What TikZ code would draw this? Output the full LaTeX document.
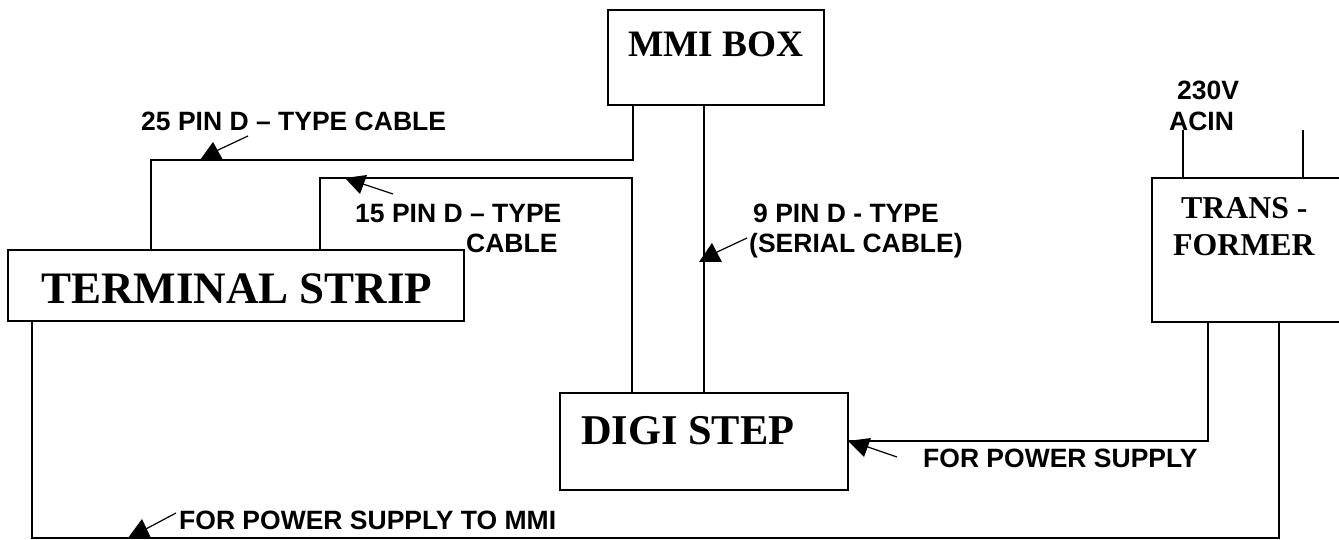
\documentclass[tikz,border=0pt]{standalone}
\usepackage{fontspec}
\setmainfont{Liberation Serif}
\newfontfamily\lblfont{Liberation Sans}
\begin{document}
\begin{tikzpicture}[x=1pt,y=-1pt,
  boxstyle/.style={draw=black,line width=1.8pt,inner sep=0pt,outer sep=0pt,anchor=north west},
  wire/.style={draw=black,line width=1.4pt,line join=miter},
  pointer/.style={draw=black,line width=1.2pt},
  head/.style={fill=black,draw=none},
  lbl/.style={inner sep=0pt,anchor=base west,font=\lblfont\bfseries\fontsize{26.5}{30}\selectfont},
  ttl/.style={inner sep=0pt,anchor=base west,font=\bfseries}]
\useasboundingbox (0,0) rectangle (1339,540);
\node[boxstyle,minimum width=216pt,minimum height=95pt] (mmi) at (608,10) {};
\node[boxstyle,minimum width=456pt,minimum height=71pt] (term) at (8,250) {};
\node[boxstyle,minimum width=288pt,minimum height=97pt] (digi) at (560,393) {};
\node[boxstyle,minimum width=192pt,minimum height=144pt] (trans) at (1152,178) {};
\node[ttl,font=\bfseries\fontsize{37.3}{40}\selectfont] (mmit) at (628,57) {MMI BOX};
\node[ttl,font=\bfseries\fontsize{45}{52}\selectfont] (termt) at (41,303) {TERMINAL STRIP};
\node[ttl,font=\bfseries\fontsize{42.4}{48}\selectfont] (digit) at (581,444) {DIGI STEP};
\node[ttl,font=\bfseries\fontsize{31.8}{36}\selectfont] (transa) at (1181,219) {TRANS -};
\node[ttl,font=\bfseries\fontsize{31.8}{36}\selectfont] (transb) at (1173,256) {FORMER};
\node[lbl] (l25) at (141,131) {25 PIN D – TYPE CABLE};
\node[lbl] (l15a) at (355,223) {15 PIN D – TYPE};
\node[lbl] (l15b) at (466,253) {CABLE};
\node[lbl] (l9a) at (753,223) {9 PIN D - TYPE};
\node[lbl] (l9b) at (749,253) {(SERIAL CABLE)};
\node[lbl] (lv1) at (1177,100) {230V};
\node[lbl] (lv2) at (1169,131) {ACIN};
\node[lbl] (lps) at (923,467) {FOR POWER SUPPLY};
\node[lbl] (lmm) at (179,529) {FOR POWER SUPPLY TO MMI};
\coordinate (c25) at (151,160);
\coordinate (c15) at (320,178);
\coordinate (ac1) at (1183,130);
\coordinate (ac2) at (1303,130);
\coordinate (ps1) at (1208,441);
\coordinate (ps2) at (1279,538);
\coordinate (ps3) at (32,538);
\path[wire] (term.north west -| c25) -- (c25) -- (c25 -| 633,0) -- (mmi.south west -| 633,0);
\path[wire] (term.north west -| c15) -- (c15) -- (c15 -| 632,0) -- (digi.north west -| 632,0);
\path[wire] (mmi.south west -| 704,0) -- (digi.north west -| 704,0);
\path[wire] (trans.north west -| ac1) -- (ac1);
\path[wire] (trans.north west -| ac2) -- (ac2);
\path[wire] (trans.south west -| ps1) -- (ps1) -- (ps1 -| digi.east);
\path[wire] (trans.south west -| ps2) -- (ps2) -- (ps3) -- (term.south west -| ps3);
\coordinate (p25) at (248,136); \coordinate (q25) at (216,151);
\coordinate (p15) at (393,194); \coordinate (q15) at (360,183);
\coordinate (p9) at (747,238); \coordinate (q9) at (715,253);
\coordinate (pps) at (897,457); \coordinate (qps) at (865,446);
\coordinate (pmm) at (176,513); \coordinate (qmm) at (144,530);
\path[pointer] (p25) -- (q25);
\path[pointer] (p15) -- (q15);
\path[pointer] (p9) -- (q9);
\path[pointer] (pps) -- (qps);
\path[pointer] (pmm) -- (qmm);
\fill[head] (200,160) -- (213,142) -- (223,160) -- cycle;
\fill[head] (345,178) -- (367,175) -- (360,194) -- cycle;
\fill[head] (699,262) -- (712,243) -- (722,262) -- cycle;
\fill[head] (848,441) -- (871,438) -- (864,457) -- cycle;
\fill[head] (128,538) -- (142,519) -- (151,538) -- cycle;
\end{tikzpicture}
\end{document}
